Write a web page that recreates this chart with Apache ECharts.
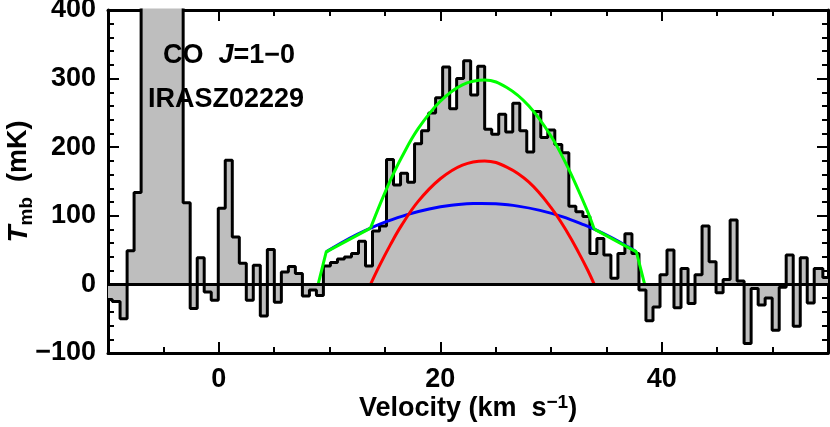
<!DOCTYPE html>
<html>
<head>
<meta charset="utf-8">
<script src="https://cdn.jsdelivr.net/npm/echarts@6/dist/echarts.min.js"></script>
<style>html,body{margin:0;padding:0;background:#fff}#c{width:830px;height:427px}</style>
</head>
<body>
<div id="c"></div>
<script>
// Spectrum channels (km/s) and antenna temperature (mK)
const velocity = [-10.00,-9.23,-8.59,-7.96,-7.33,-6.69,-6.06,-5.43,-4.80,-4.16,-3.53,-2.90,-2.26,-1.63,-1.00,-0.36,
  0.27,0.90,1.54,2.17,2.80,3.43,4.07,4.70,5.33,5.97,6.60,7.23,7.87,8.50,9.13,9.76,10.40,11.03,11.66,12.30,12.93,
  13.56,14.20,14.83,15.46,16.09,16.73,17.36,17.99,18.63,19.26,19.89,20.53,21.16,21.79,22.42,23.06,23.69,24.32,
  24.96,25.59,26.22,26.86,27.49,28.12,28.75,29.39,30.02,30.65,31.29,31.92,32.55,33.19,33.82,34.45,35.08,35.72,
  36.35,36.98,37.62,38.25,38.88,39.52,40.15,40.78,41.41,42.05,42.68,43.31,43.95,44.58,45.21,45.85,46.48,47.11,
  47.74,48.38,49.01,49.64,50.28,50.91,51.54,52.18,52.81,53.44,54.07,55.00];
const tmb = [-22,-25,-50,49,134,520,610,680,640,560,470,119,-35,39,-11,-23,111,181,69,31,-23,28,-46,51,-26,18,26,
  16,-17,-8,-16,27,32,37,40,45,63,27,78,85,182,145,162,149,205,224,250,272,317,256,300,326,276,318,226,219,248,222,
  264,224,193,252,214,225,204,192,114,106,99,45,67,43,9,45,74,45,-8,-53,-33,14,50,-34,23,-28,14,85,33,-12,7,94,5,
  -86,-6,-30,-20,-67,-4,43,-61,39,-27,23,10];

// Fit components
const redV = [13.7,14.5,15.5,16.5,18,20,22,24,26,28,30,31.5,32.5,33.3,33.9];
const redT = [0,27,58,86,121,154,174,180,171,149,112,75,46,21,0];
const blueV = [9.7,11,12.5,13.7,15,17,19,21,23,23.7,25,27,29,31,33,34,35.5,37,37.7];
const blueT = [47.4,59.9,72.8,82.0,90.7,101.8,110.0,115.4,117.8,118,117.4,114.1,107.9,98.8,86.8,79.8,67.8,54.3,47.4];
const greenLeftV = [8.97,9.7,13.7];
const greenLeftT = [0,47.4,82];
const greenMidV = [13.7,14.5,15.5,16.5,18,20,22,24,26,28,30,31.5,32.5,33.3,33.9];
const greenMidT = [82,114.5,152,185,227,267,291,298,287,260,216,171,136,106,80.5];
const greenRightV = [33.9,37.7,38.45];
const greenRightT = [80.5,47.4,0];

// Axis ticks
const xTickLabels = [0,20,40];
const xMinorTicks = [-5,0,5,10,15,20,25,30,35,40,45,50];
const yMin = -100, yMax = 400, yStep = 100;

const zip = (a,b) => a.map((v,i) => [v,b[i]]);
const FONT = 'Liberation Sans';

const chart = echarts.init(document.getElementById('c'), null, {renderer:'canvas'});

const lineAx = {show:true, onZero:false, lineStyle:{color:'#000', width:3}};
const xBase = {type:'value', min:-10, max:55, splitLine:{show:false}};
function xAx(pos, major, labels){
  return Object.assign({}, xBase, {
    position: pos,
    axisLine: major ? {show:false, onZero:false} : lineAx,
    axisTick: {show:true, inside:true, length: major ? 11 : 6, customValues: major ? xTickLabels : xMinorTicks,
               lineStyle:{color:'#000', width:2}},
    axisLabel: labels ? {show:true, customValues:xTickLabels, color:'#000', fontSize:27, fontWeight:'bold',
               fontFamily:FONT, margin:13} : {show:false},
    name: labels ? 'Velocity (km  s{sup|−1})' : '',
    nameLocation:'middle', nameGap:40, nameMoveOverlap:false,
    nameTextStyle: {color:'#000', fontSize:27, fontWeight:'bold', fontFamily:FONT, lineHeight:32,
      rich:{sup:{fontSize:19, fontWeight:'bold', fontFamily:FONT, verticalAlign:'top', lineHeight:17, color:'#000'}}}
  });
}
function yAx(pos, labels){
  return {
    type:'value', min:yMin, max:yMax, interval:yStep, position:pos,
    axisLine: lineAx, splitLine:{show:false},
    axisTick:{show:true, inside:true, length:11, lineStyle:{color:'#000', width:2}},
    minorTick:{show:true, splitNumber:5, length:6, lineStyle:{color:'#000', width:2}},
    axisLabel: labels ? {show:true, color:'#000', fontSize:27, fontWeight:'bold', fontFamily:FONT, margin:12,
      formatter: v => String(v).replace('-', '−')} : {show:false},
    name: labels ? '{it|T}{sub|mb}  (mK)' : '',
    nameLocation:'middle', nameRotate:90, nameGap:72, nameMoveOverlap:false,
    nameTextStyle:{color:'#000', fontSize:27, fontWeight:'bold', fontFamily:FONT, lineHeight:34,
      rich:{
        it:{fontStyle:'italic', fontWeight:'bold', fontSize:28, fontFamily:FONT, color:'#000', lineHeight:34},
        sub:{fontSize:19, fontWeight:'bold', fontFamily:FONT, verticalAlign:'bottom', lineHeight:17, color:'#000'}
      }}
  };
}

chart.setOption({
  animation:false,
  backgroundColor:'#fff',
  grid:{left:108, right:2, top:10, bottom:74, containLabel:false, outerBoundsMode:'none'},
  xAxis:[xAx('bottom',false,true), xAx('bottom',true,false), xAx('top',false,false), xAx('top',true,false)],
  yAxis:[yAx('left',true), yAx('right',false)],
  graphic:[
    {type:'text', left:163, top:42, z:100, style:{text:'CO  {i|J}=1−0', fill:'#000',
      font:'bold 27px "Liberation Sans"',
      rich:{i:{fontStyle:'italic', fontWeight:'bold', fontSize:27, fontFamily:FONT, fill:'#000'}}}},
    {type:'text', left:148, top:86, z:100, style:{text:'IRASZ02229', fill:'#000', font:'bold 27px "Liberation Sans"'}}
  ],
  series:[
    {type:'line', name:'spectrum', data:zip(velocity,tmb), step:'middle', showSymbol:false, clip:true, z:1,
     lineStyle:{color:'#000', width:3}, areaStyle:{color:'#bebebe', opacity:1}},
    {type:'line', name:'comp2', data:zip(blueV,blueT), smooth:0.4, showSymbol:false, z:3,
     lineStyle:{color:'#0000ff', width:3}},
    {type:'line', name:'comp1', data:zip(redV,redT), smooth:0.4, showSymbol:false, z:3,
     lineStyle:{color:'#ff0000', width:3}},
    {type:'line', name:'totalL', data:zip(greenLeftV,greenLeftT), showSymbol:false, z:4,
     lineStyle:{color:'#00ff00', width:3}},
    {type:'line', name:'totalM', data:zip(greenMidV,greenMidT), smooth:0.4, showSymbol:false, z:4,
     lineStyle:{color:'#00ff00', width:3}},
    {type:'line', name:'totalR', data:zip(greenRightV,greenRightT), showSymbol:false, z:4,
     lineStyle:{color:'#00ff00', width:3},
     markLine:{silent:true, symbol:['none','none'], label:{show:false}, z:10,
       lineStyle:{color:'#000', width:3, type:'solid'}, data:[{yAxis:0}]}}
  ]
});
</script>
</body>
</html>
